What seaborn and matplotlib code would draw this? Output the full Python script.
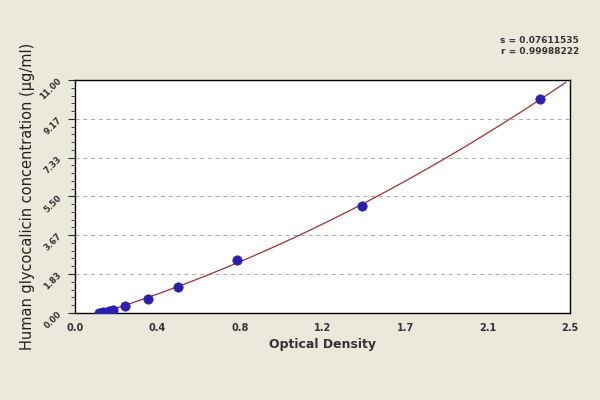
import numpy as np
import matplotlib
matplotlib.use("Agg")
import matplotlib.pyplot as plt
import seaborn as sns

od = [0.12, 0.14, 0.17, 0.19, 0.25, 0.37, 0.52, 0.82, 1.45, 2.35]
conc = [0.0, 0.03, 0.07, 0.14, 0.33, 0.66, 1.23, 2.5, 5.05, 10.1]
yticks = [0.0, 1.83, 3.67, 5.50, 7.33, 9.17, 11.00]
xticks = [0.0, 0.417, 0.833, 1.25, 1.667, 2.083, 2.5]
xlabels = ["0.0", "0.4", "0.8", "1.2", "1.7", "2.1", "2.5"]

sns.set_style("white")
fig = plt.figure(figsize=(6, 4), dpi=100, facecolor="#ebe9dc")
ax = fig.add_axes([0.125, 0.218, 0.825, 0.582])
ax.set_facecolor("white")

coef = np.polyfit(od, conc, 2)
xs = np.linspace(0.1, 2.48, 200)
ys = np.polyval(coef, xs)
ax.plot(xs, ys, color="#a03030", lw=0.9)
sns.scatterplot(x=od, y=conc, ax=ax, color="#2a1fb0", s=45, edgecolor="#2a1fb0", zorder=3)

ax.set_xlim(0, 2.5)
ax.set_ylim(0, 11)
ax.set_yticks(yticks)
ax.set_yticklabels([f"{v:.2f}" for v in yticks], rotation=45, fontsize=6, fontweight="bold", color="#333")
ax.set_xticks(xticks)
ax.set_xticklabels(xlabels, fontsize=7, fontweight="bold", color="#333")
ax.set_yticks(np.arange(0, 11.01, 11/30), minor=True)
ax.tick_params(axis="y", which="both", direction="out", left=True, length=3)
ax.tick_params(axis="y", which="major", length=5)
for v in yticks[1:-1]:
    ax.axhline(v, color="#aaaaaa", ls=(0, (4, 4)), lw=0.7, zorder=0)
for s in ax.spines.values():
    s.set_color("black")
    s.set_linewidth(1)
ax.set_xlabel("Optical Density", fontsize=9, fontweight="bold", color="#333")
ax.set_ylabel("Human glycocalicin concentration (\u00b5g/ml)", fontsize=10.5, color="#222", labelpad=2)
fig.text(0.965, 0.885, "s = 0.07611535\nr = 0.99988222", ha="right", va="center",
         fontsize=6.5, fontweight="bold", color="#333")
fig.savefig("out.png", dpi=100, facecolor=fig.get_facecolor())
